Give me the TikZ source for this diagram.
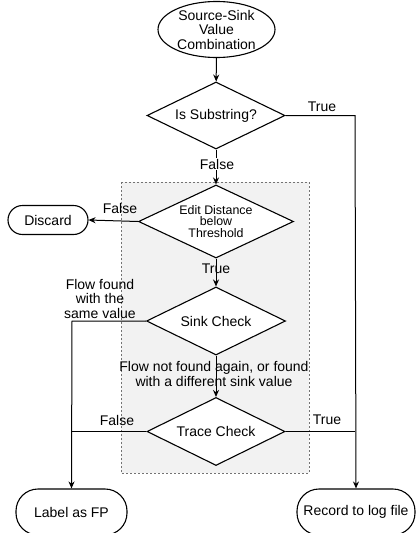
\documentclass[tikz,border=0pt]{standalone}
\usepackage{fontspec}
\setmainfont{Liberation Sans}
\usetikzlibrary{shapes.geometric,arrows.meta}
\begin{document}
\begin{tikzpicture}[x=1pt,y=-1pt,
  every node/.style={font=\fontsize{14}{14.5}\selectfont},
  line/.style={draw=black,line width=1pt},
  arr/.style={line,-{Stealth[length=7pt,width=6pt]}},
  dia/.style={draw,line width=1.1pt,diamond,inner sep=0pt,align=center,fill=white},
  term/.style={draw,line width=1.1pt,rounded corners=22pt,inner sep=0pt,align=center,fill=white},
  lbl/.style={inner sep=1pt,align=center}
]
\useasboundingbox (0,0) rectangle (416,533);
% gray dashed group box
\path[fill=black!5,draw=black!55,dash pattern=on 2pt off 2pt,line width=0.6pt] (121,182) rectangle (309,473);

\node[draw,line width=1.1pt,ellipse,minimum width=117,minimum height=56,inner sep=0pt,align=center] (src) at (216.5,29.5) {Source-Sink\\Value\\Combination};
\node[dia,aspect=2.06,minimum width=138,minimum height=67] (d1) at (216,115.5) {Is Substring?};
\node[dia,aspect=2.12,minimum width=155,minimum height=73,font=\fontsize{12.4}{11.8}\selectfont] (d2) at (216,221.5) {Edit Distance\\below\\Threshold};
\node[dia,aspect=2.04,minimum width=139,minimum height=68] (d3) at (216,321) {Sink Check};
\node[dia,aspect=2.03,minimum width=138,minimum height=68] (d4) at (216,431.5) {Trace Check};
\node[term,rounded corners=14.5pt,minimum width=80,minimum height=29] (disc) at (48,220) {Discard};
\node[term,minimum width=111,minimum height=46] (fp) at (71.5,512) {Label as FP};
\node[term,minimum width=118,minimum height=46] (rec) at (356,512) {Record to log file};

\coordinate (rtop) at (355,115.5);
\coordinate (lmid) at (72,321);
\coordinate (lbot) at (72,431.5);
\coordinate (rbot) at (355,431.5);

\draw[arr] (src) -- (d1);
\draw[arr] (d1.east) -- (rtop) -- (rec.north);
\node[lbl] (t1) at (322,107) {True};
\draw[arr] (d1.south) -- (d2.north);
\node[lbl,fill=white] (f1) at (217,164) {False};
\draw[arr] (d2.west) -- (disc.east);
\node[lbl] (f2) at (120,208) {False};
\draw[arr] (d2.south) -- (d3.north);
\node[lbl] (t2) at (216,269) {True};
\draw[arr] (d3.west) -- (lmid) -- (fp.north);
\node[lbl] (ff) at (100,298.5) {Flow found\\with the\\same value};
\draw[arr] (d3.south) -- (d4.north);
\node[lbl] (nf) at (214,374) {Flow not found again, or found\\with a different sink value};
\draw[line] (d4.west) -- (lbot);
\node[lbl] (f3) at (117,420) {False};
\draw[line] (d4.east) -- (rbot);
\node[lbl] (t3) at (327,420) {True};
\end{tikzpicture}
\end{document}
